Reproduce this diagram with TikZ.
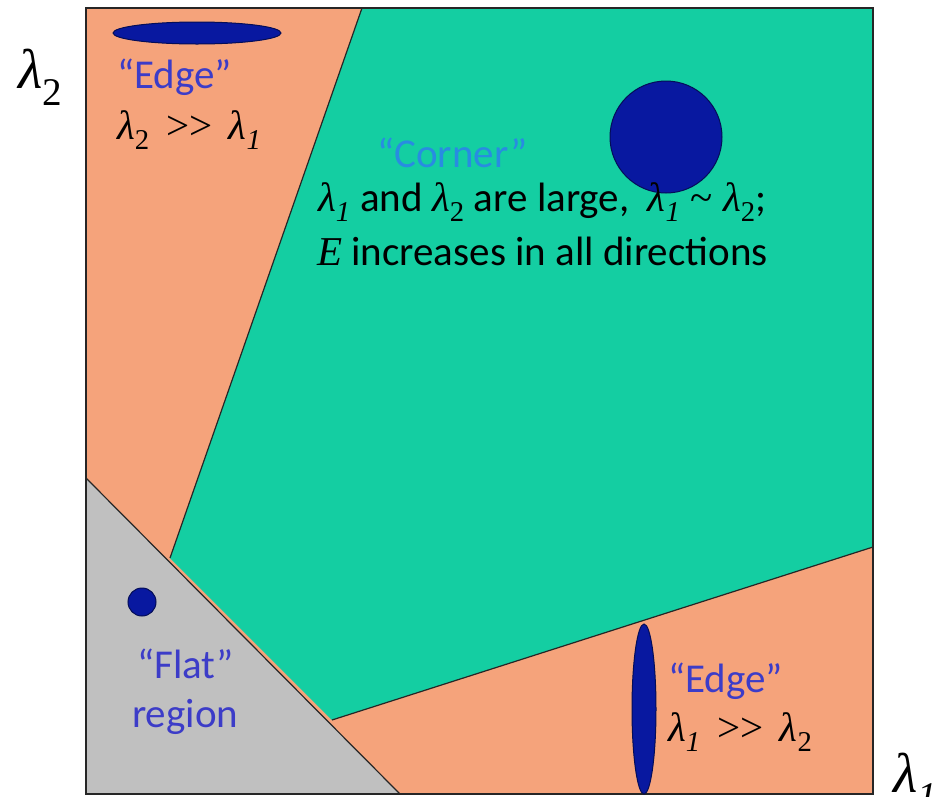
\documentclass[tikz,border=0pt]{standalone}
\usepackage{fontspec}
\setmainfont{Carlito}
\newfontfamily\lamfont{Liberation Serif}
\definecolor{edgeorange}{RGB}{245,163,123}
\definecolor{cornergreen}{RGB}{20,206,162}
\definecolor{flatgray}{RGB}{192,192,192}
\definecolor{blobblue}{RGB}{8,24,160}
\definecolor{labelblue}{RGB}{60,60,200}
\definecolor{cornerblue}{RGB}{40,140,225}
\newcommand{\lone}{{\lamfont\itshape λ}\textsubscript{\lamfont\itshape 1}}
\newcommand{\ltwo}{{\lamfont\itshape λ}\textsubscript{\lamfont 2}}
\newcommand{\much}{{\lamfont\hspace{0.4em}>{}>\hspace{0.4em}}}
\tikzset{
  region/.style={draw=black!85, line width=1.2pt},
  blob/.style={fill=blobblue, draw=blobblue!55!black, line width=1pt},
  txt/.style={anchor=base west, inner sep=0pt, font=\fontsize{41}{48}\selectfont},
  axislabel/.style={anchor=base west, inner sep=0pt, font=\fontsize{56}{60}\selectfont}
}
\begin{document}
\begin{tikzpicture}[x=1pt,y=-1pt]
  \useasboundingbox (0,0) rectangle (935,796);
  % regions
  \fill[edgeorange] (86,8) rectangle (873,794);
  \fill[cornergreen] (362,8) -- (873,8) -- (873,547) -- (332,720) -- (170,558) -- cycle;
  \fill[flatgray] (86,478) -- (400,794) -- (86,794) -- cycle;
  \draw[region] (362,8) -- (170,558);
  \draw[region] (873,547) -- (332,720);
  \draw[region] (86,478) -- (400,794);
  \draw[region] (86,8) rectangle (873,794);
  % blobs
  \draw[blob] (197,33) ellipse (84 and 11);
  \draw[blob] (666,137) circle (56);
  \draw[blob] (142,602) circle (14);
  \draw[blob] (644,709) ellipse (12 and 85);
  % labels
  \node[axislabel] (ytitle) at (18,88) {\ltwo};
  \node[axislabel] (xtitle) at (893,792) {\lone};
  \node[txt, text=labelblue] (edgetop) at (117,88) {“Edge”};
  \node[txt] (edgetoprel) at (117,139) {\ltwo\much\lone};
  \node[txt, text=cornerblue] (corner) at (377,167) {“Corner”};
  \node[txt] (cornerrel) at (318,211) {\lone{} and \ltwo{} are large,\ \ \lone{\lamfont\ \textasciitilde\ }\ltwo;};
  \node[txt] (cornerE) at (317,265) {{\lamfont\itshape E} increases in all directions};
  \node[txt, text=labelblue] (flat) at (137,678) {“Flat”};
  \node[txt, text=labelblue] (flatreg) at (132,727) {region};
  \node[txt, text=labelblue] (edgebot) at (668,692) {“Edge”};
  \node[txt] (edgebotrel) at (668,741) {\lone\much\ltwo};
\end{tikzpicture}
\end{document}
